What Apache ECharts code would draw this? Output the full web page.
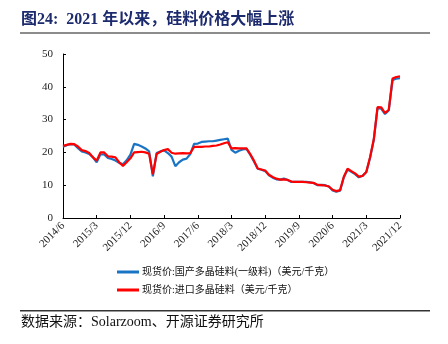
<!DOCTYPE html>
<html>
<head>
<meta charset="utf-8">
<script src="https://cdn.jsdelivr.net/npm/echarts@6/dist/echarts.min.js"></script>
<style>
  html, body { margin: 0; padding: 0; background: #fff; }
  #chart { width: 448px; height: 344px; }
</style>
</head>
<body>
<div id="chart"></div>
<script>
// Monthly spot prices of polysilicon, USD/kg, 2014/6 - 2021/12
const months = [];
for (let y = 2014, m = 6; y < 2022; ) {
  months.push(y + '/' + m);
  m++;
  if (m > 12) { m = 1; y++; }
}

const domesticPrice = [
  21.7, 22.2, 22.5, 22.4, 21.3, 20.3, 20.0, 19.5, 18.5, 17.0,
  19.4, 19.4, 18.3, 18.0, 17.5, 16.8, 16.4, 17.6, 19.3, 22.6,
  22.3, 21.8, 21.2, 20.3, 12.7, 19.8, 20.3, 20.6, 19.8, 18.7,
  15.8, 17.0, 17.8, 18.1, 19.5, 22.6, 22.7, 23.2, 23.3, 23.4,
  23.4, 23.6, 23.8, 24.0, 24.2, 20.8, 19.9, 20.5, 20.9, 21.1,
  19.3, 17.2, 15.0, 14.7, 14.3, 13.0, 12.3, 11.8, 11.7, 12.0,
  11.6, 11.0, 11.0, 11.0, 11.0, 11.0, 10.9, 10.6, 10.0, 10.1,
  10.0, 9.6, 8.4, 8.0, 8.3, 12.4, 14.8, 14.1, 13.4, 12.4,
  12.9, 14.0, 18.3, 23.8, 33.5, 33.3, 31.7, 32.8, 42.0, 42.5,
  42.6
];

const importPrice = [
  22.0, 22.3, 22.6, 22.5, 21.8, 20.7, 20.4, 19.8, 18.5, 17.5,
  20.0, 20.0, 18.8, 18.7, 18.5, 17.0, 15.9, 17.0, 18.2, 20.0,
  20.1, 20.2, 20.0, 19.6, 13.3, 19.5, 20.2, 20.7, 21.0, 19.9,
  19.6, 19.7, 19.8, 19.7, 19.8, 21.7, 21.7, 21.7, 21.8, 21.8,
  22.0, 22.1, 22.4, 22.8, 23.1, 21.2, 21.3, 21.2, 21.2, 21.2,
  19.5, 17.5, 15.1, 14.8, 14.5, 13.2, 12.5, 12.0, 11.7, 11.8,
  11.6, 11.1, 11.0, 11.0, 11.0, 10.9, 10.8, 10.7, 10.1, 10.0,
  9.9, 9.6, 8.6, 8.2, 8.5, 12.6, 15.0, 14.3, 13.6, 12.6,
  12.8, 14.0, 18.5, 24.0, 33.8, 33.7, 32.0, 33.0, 42.5, 43.0,
  43.2
];

const seriesNames = [
  '现货价:国产多晶硅料(一级料)（美元/千克）',
  '现货价:进口多晶硅料（美元/千克）'
];
const titleText = '图24:  2021 年以来，硅料价格大幅上涨';
const sourceText = '数据来源：Solarzoom、开源证券研究所';

const serif = '"Liberation Serif", "Times New Roman", serif';
const cjk = '"Liberation Serif", "Noto Sans CJK SC", serif';

const chart = echarts.init(document.getElementById('chart'), null, { renderer: 'canvas' });
chart.setOption({
  animation: false,
  backgroundColor: '#fff',
  grid: { left: 63, right: 48, top: 54, bottom: 126 },
  xAxis: {
    type: 'category',
    data: months,
    boundaryGap: false,
    axisLine: { lineStyle: { color: '#000', width: 1 } },
    axisTick: { inside: true, length: 3, interval: 8, lineStyle: { color: '#000' } },
    axisLabel: {
      interval: 8, rotate: 45, fontFamily: serif, fontSize: 11, color: '#222', margin: 6
    },
    splitLine: { show: false }
  },
  yAxis: {
    type: 'value',
    min: 0, max: 50, interval: 10,
    axisLine: { show: true, lineStyle: { color: '#000', width: 1 } },
    axisTick: { show: true, inside: true, length: 3, lineStyle: { color: '#000' } },
    axisLabel: { fontFamily: serif, fontSize: 11, color: '#222', margin: 10 },
    splitLine: { show: false }
  },
  legend: {
    orient: 'vertical',
    left: 112, top: 262,
    itemGap: 8,
    itemWidth: 22, itemHeight: 3,
    icon: 'rect',
    textStyle: { fontFamily: cjk, fontSize: 10, color: '#111', padding: [0, 0, 0, -2] },
    data: seriesNames
  },
  series: [
    {
      name: seriesNames[0], type: 'line', data: domesticPrice,
      showSymbol: false, smooth: false,
      lineStyle: { color: '#1a74c4', width: 2.2 }, itemStyle: { color: '#1a74c4' }
    },
    {
      name: seriesNames[1], type: 'line', data: importPrice,
      showSymbol: false, smooth: false,
      lineStyle: { color: '#ff0000', width: 2.2 }, itemStyle: { color: '#ff0000' }
    }
  ],
  graphic: [
    {
      type: 'text', left: 21, top: 12,
      style: { text: titleText, font: 'bold 16px ' + cjk, fill: '#1c2a6e' }
    },
    {
      type: 'rect', shape: { x: 20, y: 32, width: 410, height: 2 },
      style: { fill: '#8c8c8c' }
    },
    {
      type: 'rect', shape: { x: 20, y: 310, width: 410, height: 1.5 },
      style: { fill: '#333' }
    },
    {
      type: 'text', left: 21, top: 315,
      style: { text: sourceText, font: '14px ' + cjk, fill: '#111' }
    }
  ]
});
</script>
</body>
</html>
